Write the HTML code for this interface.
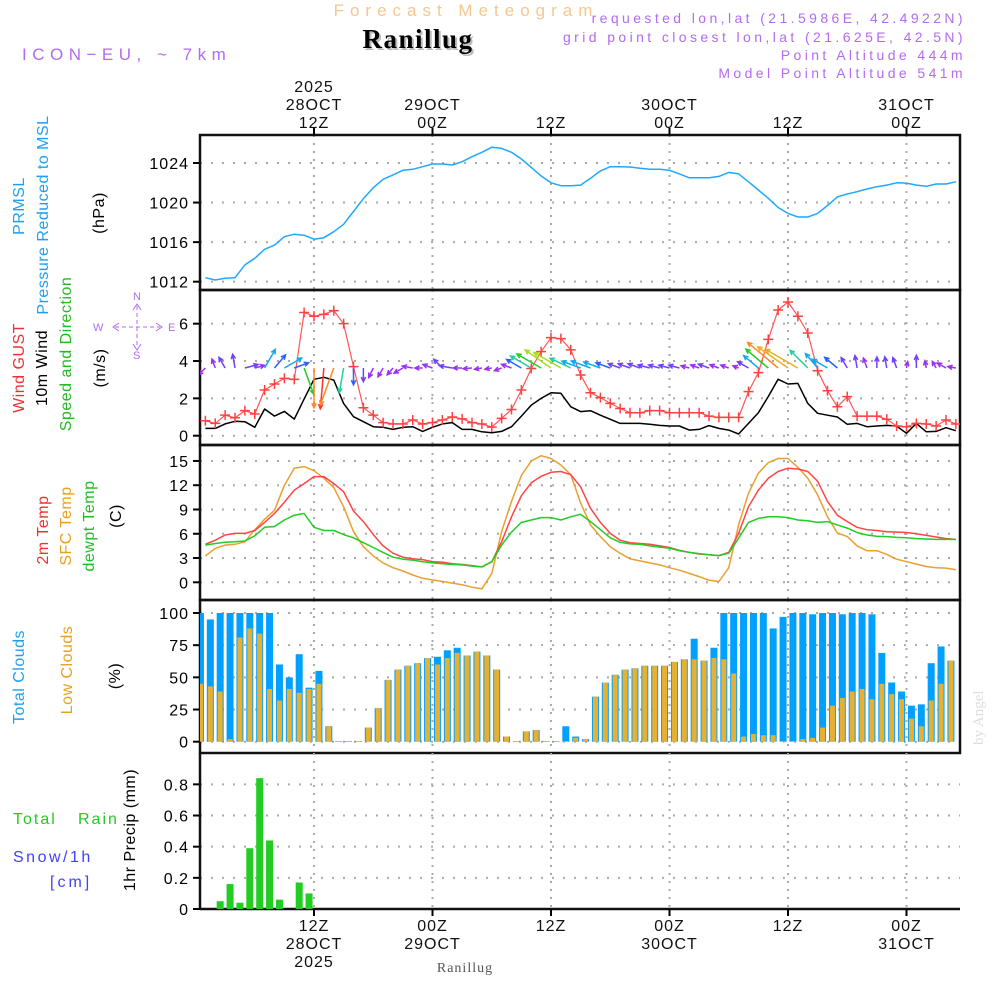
<!DOCTYPE html>
<html><head><meta charset="utf-8">
<style>
html,body{margin:0;padding:0;background:#fff;}
svg{display:block;font-family:"Liberation Sans",sans-serif;}
</style></head>
<body>
<svg id="chart" width="1000" height="1000" viewBox="0 0 1000 1000" xmlns="http://www.w3.org/2000/svg">
  <rect x="0" y="0" width="1000" height="1000" fill="#fff"/>
  <text x="466" y="16" text-anchor="middle" font-size="17" fill="#f3c890" letter-spacing="6">Forecast Meteogram</text>
  <text x="420" y="50" text-anchor="middle" font-size="27" font-weight="bold" fill="#bbb" font-family="Liberation Serif, serif" letter-spacing="1.5">Ranillug</text>
  <text x="418" y="48" text-anchor="middle" font-size="27" font-weight="bold" fill="#000" font-family="Liberation Serif, serif" letter-spacing="1.5">Ranillug</text>
  <text x="22" y="60" font-size="17" fill="#b36bef" letter-spacing="5.5">ICON−EU, ~ 7km</text>
  <g font-size="14" fill="#b36bef" text-anchor="end" letter-spacing="3.4">
    <text x="966" y="23">requested lon,lat (21.5986E, 42.4922N)</text>
    <text x="966" y="42">grid point closest lon,lat (21.625E, 42.5N)</text>
    <text x="966" y="60">Point Altitude 444m</text>
    <text x="966" y="78">Model Point Altitude 541m</text>
  </g>
  <text transform="translate(983,745) rotate(-90)" font-size="15" fill="#ddd" font-family="Liberation Serif, serif">by Angel</text>
  <text x="465" y="972" text-anchor="middle" font-size="14" fill="#555" font-family="Liberation Serif, serif" letter-spacing="1">Ranillug</text>

  <g font-size="16" letter-spacing="0.5">
    <text transform="translate(24,206) rotate(-90)" text-anchor="middle" fill="#1ea0f0">PRMSL</text>
    <text transform="translate(48,215) rotate(-90)" text-anchor="middle" fill="#1ea0f0">Pressure Reduced to MSL</text>
    <text transform="translate(104,213) rotate(-90)" text-anchor="middle" fill="#000">(hPa)</text>
    <text transform="translate(24,368) rotate(-90)" text-anchor="middle" fill="#f03030">Wind GUST</text>
    <text transform="translate(47,368) rotate(-90)" text-anchor="middle" fill="#000">10m Wind</text>
    <text transform="translate(71,354) rotate(-90)" text-anchor="middle" fill="#22bb22">Speed and Direction</text>
    <text transform="translate(105,368) rotate(-90)" text-anchor="middle" fill="#000">(m/s)</text>
    <text transform="translate(48,530) rotate(-90)" text-anchor="middle" fill="#f03030">2m Temp</text>
    <text transform="translate(71,526) rotate(-90)" text-anchor="middle" fill="#e8a020">SFC Temp</text>
    <text transform="translate(94,526) rotate(-90)" text-anchor="middle" fill="#22bb22">dewpt Temp</text>
    <text transform="translate(121,516) rotate(-90)" text-anchor="middle" fill="#000">(C)</text>
    <text transform="translate(24,677) rotate(-90)" text-anchor="middle" fill="#1ea0f0">Total Clouds</text>
    <text transform="translate(72,670) rotate(-90)" text-anchor="middle" fill="#e8a020">Low Clouds</text>
    <text transform="translate(120,676) rotate(-90)" text-anchor="middle" fill="#000">(%)</text>
    <text transform="translate(135,830) rotate(-90)" text-anchor="middle" fill="#000">1hr Precip (mm)</text>
    <text x="13" y="824" fill="#22cc22" letter-spacing="2">Total</text>
    <text x="78" y="824" fill="#22cc22" letter-spacing="2">Rain</text>
    <text x="13" y="862" fill="#4040ff" letter-spacing="2.5">Snow/1h</text>
    <text x="50" y="887" fill="#4040ff" letter-spacing="3">[cm]</text>
  </g>
  <g fill="#b36bef" stroke="#b36bef" font-size="11">
    <text x="133" y="300" stroke="none">N</text>
    <text x="133" y="359" stroke="none">S</text>
    <text x="93" y="331" stroke="none">W</text>
    <text x="168" y="331" stroke="none">E</text>
    <line x1="137" y1="306" x2="137" y2="348" stroke-dasharray="4,3"/>
    <line x1="115" y1="327" x2="160" y2="327" stroke-dasharray="4,3"/>
    <polyline points="133,310 137,304 141,310" fill="none"/>
    <polyline points="119,323 113,327 119,331" fill="none"/>
    <polyline points="156,323 162,327 156,331" fill="none"/>
    <polyline points="133,344 137,350 141,344" fill="none"/>
  </g>
  <g id="plot"></g>
</svg>
<script>
const hours = [];
for (let i = 1; i <= 77; i++) hours.push(i);
const pressure = [1012.4,1012.17,1012.34,1012.4,1013.7,1014.36,1015.27,1015.7,1016.55,1016.8,
1016.7,1016.3,1016.45,1017.05,1017.8,1019.1,1020.4,1021.5,1022.35,1022.8,
1023.26,1023.36,1023.63,1023.9,1023.9,1023.8,1024.13,1024.64,1025.08,1025.6,
1025.48,1025.08,1024.4,1023.56,1022.7,1022.0,1021.7,1021.7,1021.77,1022.45,
1023.2,1023.63,1023.63,1023.6,1023.46,1023.36,1023.36,1023.26,1022.9,1022.5,
1022.5,1022.5,1022.65,1023.05,1022.9,1022.1,1021.27,1020.43,1019.5,1018.9,
1018.54,1018.54,1018.9,1019.7,1020.57,1020.87,1021.1,1021.37,1021.6,1021.77,
1022.0,1021.97,1021.77,1021.64,1021.88,1021.88,1022.1];
const gust = [0.8,0.66,1.1,0.96,1.34,1.16,2.45,2.77,3.07,3.02,
6.6,6.4,6.5,6.7,6.0,3.7,1.5,1.1,0.7,0.63,
0.63,0.84,0.63,0.7,0.84,1.0,0.9,0.7,0.63,0.46,
0.93,1.4,2.45,3.6,4.5,5.25,5.2,4.6,3.25,2.3,
2.04,1.73,1.46,1.23,1.23,1.34,1.34,1.23,1.23,1.23,
1.23,1.05,0.98,0.98,0.98,2.36,3.38,5.16,6.73,7.16,
6.4,5.5,3.48,2.41,1.55,2.09,1.05,1.05,1.05,0.88,
0.52,0.48,0.66,0.63,0.52,0.84,0.63];
const wind10 = [0.39,0.39,0.63,0.77,0.75,0.45,1.43,1.05,1.3,0.89,
1.96,3.02,3.13,2.98,1.73,1.02,0.75,0.48,0.45,0.34,
0.45,0.48,0.23,0.45,0.63,0.7,0.34,0.34,0.21,0.16,
0.23,0.48,1.05,1.64,2.0,2.3,2.27,1.55,1.29,1.34,
1.1,0.88,0.66,0.66,0.66,0.61,0.55,0.52,0.52,0.3,
0.34,0.54,0.39,0.3,0.09,0.66,1.23,2.1,3.02,2.77,
2.8,1.73,1.2,1.1,1.0,0.61,0.66,0.48,0.52,0.55,
0.52,0.13,0.66,0.21,0.23,0.43,0.27];
const windDir = [225,110,120,100,15,15,60,50,30,20,
-70,-90,-95,-110,-100,-90,-90,-115,-120,-130,
-150,170,180,160,135,170,180,185,190,190,
200,160,150,150,150,145,150,155,160,160,
160,160,160,160,160,165,165,165,165,165,
160,160,160,160,160,150,140,140,140,145,
150,135,130,150,140,120,100,110,90,100,
110,80,90,100,120,150,170];
const t2m = [4.7,5.2,5.85,6.05,6.05,6.4,7.4,8.5,9.9,11.4,
12.2,13.06,13.06,12.2,11.2,8.8,7.5,5.9,4.5,3.6,
3.1,2.9,2.8,2.55,2.5,2.3,2.2,2.06,1.9,2.55,
5.0,8.1,10.7,12.3,13.1,13.6,13.7,13.3,11.8,9.15,
7.4,6.05,5.2,4.9,4.8,4.7,4.5,4.3,3.95,3.7,
3.5,3.4,3.3,3.7,6.05,9.35,11.4,12.85,13.7,14.1,
14.0,13.7,12.5,10.0,8.3,7.5,6.8,6.5,6.4,6.25,
6.2,6.15,6.0,5.8,5.6,5.4,5.3];
const tsfc = [3.25,4.2,4.6,4.7,5.0,6.5,7.8,8.9,12.0,14.1,
14.3,13.8,12.85,11.7,9.35,6.25,4.4,3.25,2.4,1.8,
1.4,0.9,0.5,0.3,0.1,-0.1,-0.3,-0.6,-0.8,1.1,
6.25,10.0,13.2,15.0,15.65,15.3,14.5,13.3,9.8,7.1,
5.65,4.4,3.6,2.9,2.65,2.4,2.15,1.8,1.5,1.1,
0.7,0.25,0.1,1.8,7.1,11.0,13.5,14.8,15.3,15.3,
14.2,12.85,10.8,8.1,6.1,5.65,4.5,3.9,3.9,3.45,
2.85,2.55,2.25,1.95,1.8,1.75,1.55];
const dewpt = [4.6,4.8,4.95,5.0,5.1,5.75,6.8,6.9,7.7,8.3,
8.5,6.8,6.4,6.4,5.9,5.5,4.9,4.3,3.7,3.1,
2.85,2.75,2.55,2.4,2.3,2.2,2.15,2.0,1.9,2.55,
4.6,6.2,7.4,7.7,8.0,8.0,7.7,8.1,8.4,7.5,
6.5,5.5,4.95,4.75,4.7,4.5,4.35,4.2,3.9,3.7,
3.55,3.4,3.3,3.6,5.45,7.4,7.9,8.1,8.1,8.0,
7.7,7.6,7.4,7.5,7.1,6.7,6.15,5.85,5.7,5.65,
5.55,5.5,5.4,5.35,5.3,5.3,5.3];
const totalClouds = [100,95,100,100,100,100,100,100,60,50,
68,42,55,12,0.5,0.5,0.5,11,26,48,
56,59,61,65,66,71,73,67,70,67,
56,4,0.5,8,9,0.5,0.5,12,4,2,
35,46,52,56,57,59,59,59,62,64,
80,63,73,100,100,100,100,100,88,97,
100,100,99,100,100,99,100,100,99,69,
46,39,28,29,61,74,63];
const lowClouds = [45,43,39,2,81,88,84,41,32,41,
38,41,45,12,0.5,0.5,0.5,11,26,48,
56,59,61,65,60,65,69,67,70,67,
56,4,0.5,8,9,0.5,0.5,0.5,3,2,
35,46,52,56,57,59,59,59,62,64,
64,63,65,64,53,4,6,5,5,0.5,
0.5,2,3,11,28,34,39,41,33,45,
37,33,18,12,32,45,63];
const precip = [0,0,0.05,0.16,0.04,0.39,0.84,0.44,0.06,0,0.17,0.1,
0,0,0,0,0,0,0,0,0,0,0,0,0,0,0,0,0,0,0,0,0,0,0,0,0,0,0,0,
0,0,0,0,0,0,0,0,0,0,0,0,0,0,0,0,0,0,0,0,0,0,0,0,0,0,0,0,0,0,0,0,0,0,0];
const pressTicks = [1012,1016,1020,1024];
const windTicks = [0,2,4,6];
const tempTicks = [0,3,6,9,12,15];
const cloudTicks = [0,25,50,75,100];
const precipTicks = [0,0.2,0.4,0.6,0.8];
const timeTicksH = [12,24,36,48,60,72];
const topLabels = [["2025","28OCT","12Z"],["","29OCT","00Z"],["","","12Z"],["","30OCT","00Z"],["","","12Z"],["","31OCT","00Z"]];
const bottomLabels = [["12Z","28OCT","2025"],["00Z","29OCT",""],["12Z","",""],["00Z","30OCT",""],["12Z","",""],["00Z","31OCT",""]];

const NS = "http://www.w3.org/2000/svg";
const plot = document.getElementById("plot");
const XL = 200, XR = 960;
function xh(h){ return 314 + (h - 12) * 9.875; }
function yP(v){ return 163 + (1024 - v) * 9.89; }
function yW(v){ return 435.7 - v * 18.67; }
function yT(v){ return 582.3 - v * 8.09; }
function yC(v){ return 741.7 - v * 1.287; }
function yR(v){ return 909 - v * 155.8; }
function mk(tag, attrs, parent){
  const e = document.createElementNS(NS, tag);
  for (const k in attrs) e.setAttribute(k, attrs[k]);
  (parent || plot).appendChild(e);
  return e;
}
const defs = mk("defs", {});
const cp = mk("clipPath", {id:"pc"}, defs);
mk("rect", {x:XL, y:130, width:XR-XL, height:790}, cp);

const panels = [
  {name:"pressure", top:135, bot:290, ticks:pressTicks, y:yP, fmt:v=>String(v)},
  {name:"wind", top:290, bot:445, ticks:windTicks, y:yW, fmt:v=>String(v)},
  {name:"temperature", top:445, bot:600, ticks:tempTicks, y:yT, fmt:v=>String(v)},
  {name:"clouds", top:600, bot:753, ticks:cloudTicks, y:yC, fmt:v=>String(v)},
  {name:"precip", top:753, bot:909, ticks:precipTicks, y:yR, fmt:v=>v===0?"0":v.toFixed(1)}
];
panels.forEach(p => {
  const g = mk("g", {});
  
  
  p.ticks.forEach(t => {
    const yy = p.y(t);
    const gl = mk("line", {x1:XL, x2:XR, y1:yy, y2:yy, stroke:"#aaa", "stroke-width":2, "stroke-dasharray":"2,9"}, g);
    
    
    const tk = mk("line", {x1:XL-7, x2:XL, y1:yy, y2:yy, stroke:"#000", "stroke-width":2}, g);
    
    
    const tl = mk("text", {x:XL-11, y:yy+6, "text-anchor":"end", "font-size":16, fill:"#000", "letter-spacing":1}, g);
    tl.textContent = p.fmt(t);
    
    
  });
  timeTicksH.forEach(h => {
    const vl = mk("line", {x1:xh(h), x2:xh(h), y1:p.top, y2:p.bot, stroke:"#aaa", "stroke-width":2, "stroke-dasharray":"2,6"}, g);
    
    
  });
  if (p.name !== "precip") {
    const fr = mk("rect", {x:XL, y:p.top, width:XR-XL, height:p.bot-p.top, fill:"none", stroke:"#111", "stroke-width":2.5}, g);
    
    
  } else {
    const la = mk("line", {x1:XL, x2:XL, y1:p.top, y2:p.bot, stroke:"#111", "stroke-width":2.5}, g);
    
    
    const ba = mk("line", {x1:XL, x2:XR, y1:p.bot, y2:p.bot, stroke:"#111", "stroke-width":2.5}, g);
    
    
  }
});
timeTicksH.forEach((h, i) => {
  const x = xh(h);
  const t1 = mk("line", {x1:x, x2:x, y1:128, y2:135, stroke:"#000", "stroke-width":2});
  
  
  const t2 = mk("line", {x1:x, x2:x, y1:909, y2:916, stroke:"#000", "stroke-width":2});
  
  
  topLabels[i].forEach((s, j) => {
    if (!s) return;
    const t = mk("text", {x:x, y:92 + j*18, "text-anchor":"middle", "font-size":16, fill:"#111", "letter-spacing":1});
    t.textContent = s;
    
    
  });
  bottomLabels[i].forEach((s, j) => {
    if (!s) return;
    const t = mk("text", {x:x, y:931 + j*18, "text-anchor":"middle", "font-size":16, fill:"#111", "letter-spacing":1});
    t.textContent = s;
    
    
  });
});

const series = mk("g", {"clip-path":"url(#pc)"});



function line(arr, yf, color, name, w){
  const pts = arr.map((v, i) => xh(hours[i]).toFixed(1) + "," + yf(v).toFixed(1)).join(" ");
  const pl = mk("polyline", {points:pts, fill:"none", stroke:color, "stroke-width":w||1.5, "stroke-linejoin":"round"}, series);
  
  
  return pl;
}
hours.forEach((h, i) => {
  const cx = xh(h - 0.5);
  const b = mk("rect", {x:cx-3.5, y:yC(totalClouds[i]), width:7, height:yC(0)-yC(totalClouds[i]), fill:"#00a0ff"}, series);
  
  
  const o = mk("rect", {x:cx-2.5, y:yC(lowClouds[i]), width:5, height:yC(0)-yC(lowClouds[i]), fill:"#e8b030"}, series);
  
  
  if (precip[i] > 0) {
    const pb = mk("rect", {x:cx-3.5, y:yR(precip[i]), width:7, height:yR(0)-yR(precip[i]), fill:"#22cc22"}, series);
    
    
  }
});
line(pressure, yP, "#1ea8ff", "pressure-line", 1.5);
line(tsfc, yT, "#e8a030", "sfc-temp-line", 1.5);
line(t2m, yT, "#ff4444", "temp-2m-line", 1.5);
line(dewpt, yT, "#22cc22", "dewpt-line", 1.5);
line(wind10, yW, "#000", "wind-10m-line", 1.5);
line(gust, yW, "#ff5555", "gust-line", 1.2);
hours.forEach((h, i) => {
  const x = xh(h), y = yW(gust[i]);
  const m = mk("path", {d:`M${x-5},${y}H${x+5}M${x},${y-5}V${y+5}`, stroke:"#ff4040", "stroke-width":1.5}, series);
  
  
});
function windColor(s){
  if (s < 0.5) return "#9b30f0";
  if (s < 0.8) return "#7040ff";
  if (s < 1.1) return "#2a60ff";
  if (s < 1.5) return "#10aaf0";
  if (s < 1.75) return "#20d0a0";
  if (s < 2.2) return "#22cc22";
  if (s < 2.5) return "#b0d820";
  if (s < 2.9) return "#e8b020";
  if (s < 3.1) return "#ff8820";
  return "#ff3030";
}
hours.forEach((h, i) => {
  const x = xh(h), y = 368;
  const s = wind10[i];
  const len = 5 + s * 11.5;
  const a = windDir[i] * Math.PI / 180;
  const x2 = x + Math.cos(a) * len, y2 = y - Math.sin(a) * len;
  const hl = 5;
  const a1 = a + Math.PI - 0.45, a2 = a + Math.PI + 0.45;
  const d = `M${x},${y}L${x2},${y2}M${x2 + Math.cos(a1)*hl},${y2 - Math.sin(a1)*hl}L${x2},${y2}L${x2 + Math.cos(a2)*hl},${y2 - Math.sin(a2)*hl}`;
  const ar = mk("path", {d:d, fill:"none", stroke:windColor(s), "stroke-width":1.5}, series);
  
  
});
</script>
</body></html>
